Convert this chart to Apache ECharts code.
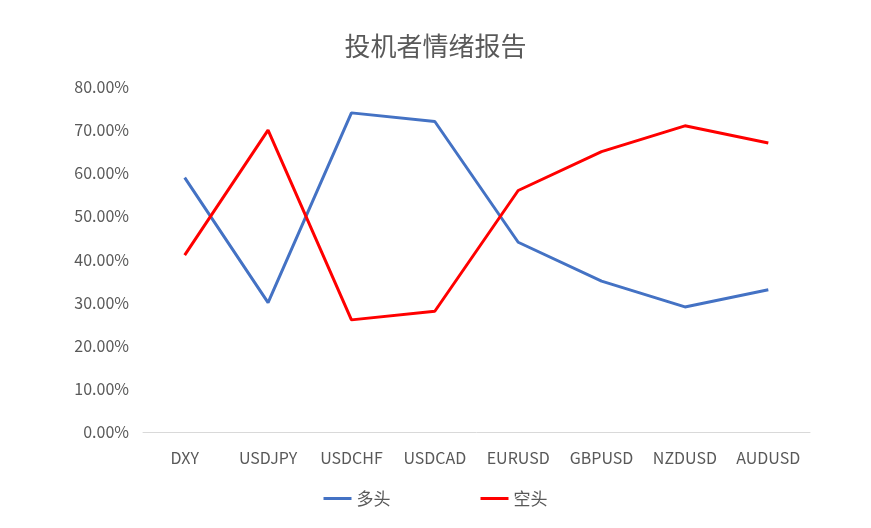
<!DOCTYPE html>
<html>
<head>
<meta charset="utf-8">
<script src="https://cdn.jsdelivr.net/npm/echarts@6/dist/echarts.min.js"></script>
<style>
html, body { margin: 0; padding: 0; background: #fff; }
#chart { width: 871px; height: 528px; }
</style>
</head>
<body>
<div id="chart"></div>
<script>
// 货币对
var pairs = ['DXY', 'USDJPY', 'USDCHF', 'USDCAD', 'EURUSD', 'GBPUSD', 'NZDUSD', 'AUDUSD'];
// 多头 / 空头 比例 (%)
var longPct = [59, 30, 74, 72, 44, 35, 29, 33];
var shortPct = [41, 70, 26, 28, 56, 65, 71, 67];

var font = '"Microsoft YaHei", "Noto Sans CJK SC", sans-serif';
var myChart = echarts.init(document.getElementById('chart'));

myChart.setOption({
	animation: false,
	title: {
		text: '投机者情绪报告',
		left: 'center',
		top: 28,
		textStyle: { fontFamily: font, fontSize: 26, fontWeight: 'normal', color: '#595959' }
	},
	legend: {
		bottom: 16,
		left: 'center',
		itemGap: 90,
		itemWidth: 28,
		itemHeight: 3,
		icon: 'rect',
		textStyle: { fontFamily: font, fontSize: 17, color: '#595959' },
		data: ['多头', '空头']
	},
	grid: { left: 143, right: 61, top: 87, bottom: 96 },
	xAxis: {
		type: 'category',
		data: pairs,
		boundaryGap: true,
		axisLine: { lineStyle: { color: '#d9d9d9' } },
		axisTick: { show: false },
		axisLabel: { fontFamily: font, fontSize: 16, color: '#595959', margin: 18 }
	},
	yAxis: {
		type: 'value',
		min: 0,
		max: 80,
		interval: 10,
		splitLine: { show: false },
		axisLabel: {
			fontFamily: font, fontSize: 16, color: '#595959', margin: 14,
			formatter: function(v) { return v.toFixed(2) + '%'; }
		}
	},
	series: [
		{
			name: '多头', type: 'line', data: longPct,
			symbol: 'none', lineStyle: { color: '#4472c4', width: 3 }, itemStyle: { color: '#4472c4' }
		},
		{
			name: '空头', type: 'line', data: shortPct,
			symbol: 'none', lineStyle: { color: '#ff0000', width: 3 }, itemStyle: { color: '#ff0000' }
		}
	]
});
</script>
</body>
</html>
